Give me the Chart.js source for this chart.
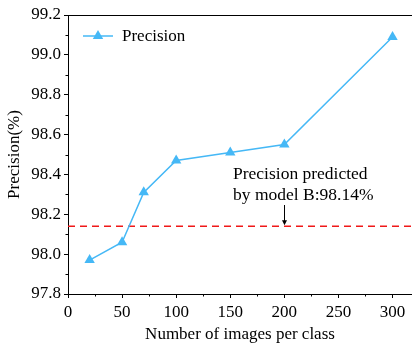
<!DOCTYPE html>
<html>
<head>
<meta charset="utf-8">
<script src="https://cdn.jsdelivr.net/npm/chart.js@4.4.1/dist/chart.umd.min.js"></script>
<style>
  html, body { margin: 0; padding: 0; background: #fff; overflow: hidden; }
  #c { display: block; }
</style>
</head>
<body>
<canvas id="c" width="412" height="349"></canvas>
<script>
// Training set size vs. precision
const imagesPerClass = [20, 50, 70, 100, 150, 200, 300];
const precision = [97.97, 98.06, 98.31, 98.47, 98.51, 98.55, 99.09];
const baselinePrecision = 98.14;
const baselineLabel = ['Precision predicted', 'by model B:98.14%'];
const baselineArrowX = 200;
const xTicks = [0, 50, 100, 150, 200, 250, 300];
const yTicks = [97.8, 98.0, 98.2, 98.4, 98.6, 98.8, 99.0, 99.2];

const FONT = "'Liberation Serif', 'Times New Roman', serif";
const BLUE = '#45b8f6';
const RED = '#f01818';

// Minor ticks, top frame line, legend, and the baseline annotation
const decorations = {
  id: 'decorations',
  afterDraw(chart) {
    const ctx = chart.ctx;
    const xs = chart.scales.x, ys = chart.scales.y;
    const a = chart.chartArea;
    ctx.save();
    ctx.strokeStyle = '#000';
    ctx.lineWidth = 1;
    // top frame
    ctx.beginPath();
    ctx.moveTo(a.left, a.top + 0.5);
    ctx.lineTo(a.right, a.top + 0.5);
    ctx.stroke();
    // minor ticks
    ctx.beginPath();
    for (let i = 0; i < xTicks.length; i++) {
      const v = xTicks[i] + 25;
      if (v > xs.max) break;
      const px = Math.round(xs.getPixelForValue(v)) + 0.5;
      ctx.moveTo(px, a.bottom);
      ctx.lineTo(px, a.bottom + 2.5);
    }
    for (let i = 0; i < yTicks.length - 1; i++) {
      const v = (yTicks[i] + yTicks[i + 1]) / 2;
      const py = Math.round(ys.getPixelForValue(v)) + 0.5;
      ctx.moveTo(a.left, py);
      ctx.lineTo(a.left - 2.5, py);
    }
    ctx.stroke();

    // legend
    const ds = chart.data.datasets[0];
    const ly = 36, lx = 83;
    ctx.strokeStyle = ds.borderColor;
    ctx.lineWidth = 1.5;
    ctx.beginPath();
    ctx.moveTo(lx, ly);
    ctx.lineTo(lx + 30, ly);
    ctx.stroke();
    ctx.fillStyle = ds.pointBackgroundColor;
    ctx.beginPath();
    const r = 6;
    ctx.moveTo(lx + 15, ly - r);
    ctx.lineTo(lx + 15 + r * Math.sin(Math.PI / 3), ly + r * 0.5);
    ctx.lineTo(lx + 15 - r * Math.sin(Math.PI / 3), ly + r * 0.5);
    ctx.closePath();
    ctx.fill();
    ctx.fillStyle = '#000';
    ctx.font = '17px ' + FONT;
    ctx.textBaseline = 'middle';
    ctx.textAlign = 'left';
    ctx.fillText(ds.label, lx + 39, ly + 1);

    // baseline annotation
    const bx = Math.round(xs.getPixelForValue(baselineArrowX)) + 0.5;
    const by = ys.getPixelForValue(baselinePrecision);
    ctx.font = '17.5px ' + FONT;
    ctx.textBaseline = 'alphabetic';
    ctx.fillText(baselineLabel[0], 233, 179);
    ctx.fillText(baselineLabel[1], 233, 200);
    ctx.strokeStyle = '#000';
    ctx.lineWidth = 1;
    ctx.beginPath();
    ctx.moveTo(bx, 205);
    ctx.lineTo(bx, by - 5);
    ctx.stroke();
    ctx.beginPath();
    ctx.moveTo(bx - 2.5, by - 6);
    ctx.lineTo(bx + 2.5, by - 6);
    ctx.lineTo(bx, by - 1);
    ctx.closePath();
    ctx.fill();
    ctx.restore();
  }
};

new Chart(document.getElementById('c'), {
  type: 'line',
  data: {
    datasets: [
      {
        label: 'Precision',
        data: imagesPerClass.map((x, i) => ({ x, y: precision[i] })),
        borderColor: BLUE,
        backgroundColor: BLUE,
        pointBackgroundColor: BLUE,
        pointBorderWidth: 0,
        pointStyle: 'triangle',
        pointRadius: 6,
        borderWidth: 1.5,
        tension: 0,
        clip: 8
      },
      {
        label: 'baseline',
        data: [{ x: 0, y: baselinePrecision }, { x: 320, y: baselinePrecision }],
        borderColor: RED,
        borderDash: [7, 5],
        borderWidth: 1.6,
        pointRadius: 0
      }
    ]
  },
  options: {
    responsive: false,
    animation: false,
    devicePixelRatio: 1,
    layout: { autoPadding: false, padding: { top: 15, right: 0, left: 0, bottom: 0 } },
    plugins: { legend: { display: false }, tooltip: { enabled: false } },
    scales: {
      x: {
        type: 'linear',
        min: 0,
        max: 318,
        afterBuildTicks: s => { s.ticks = xTicks.map(v => ({ value: v })); },
        afterFit: s => { s.height = 55; s.paddingLeft = 0; s.paddingRight = 0; },
        ticks: { color: '#000', font: { family: FONT, size: 17 }, padding: 4, maxRotation: 0 },
        grid: { drawOnChartArea: false, drawTicks: true, tickLength: 4, tickColor: '#000', tickWidth: 1 },
        border: { color: '#000', width: 1 },
        title: { display: true, text: 'Number of images per class', color: '#000', font: { family: FONT, size: 17 }, padding: { top: 2 } }
      },
      y: {
        min: 97.8,
        max: 99.2,
        afterBuildTicks: s => { s.ticks = yTicks.map(v => ({ value: v })); },
        afterFit: s => { s.width = 68; s.paddingTop = 0; s.paddingBottom = 0; },
        ticks: { color: '#000', font: { family: FONT, size: 17 }, padding: 3, callback: v => v.toFixed(1) },
        grid: { drawOnChartArea: false, drawTicks: true, tickLength: 4, tickColor: '#000', tickWidth: 1 },
        border: { color: '#000', width: 1 },
        title: { display: true, text: 'Precision(%)', color: '#000', font: { family: FONT, size: 17 }, padding: { bottom: 0 } }
      }
    }
  },
  plugins: [decorations]
});
</script>
</body>
</html>
